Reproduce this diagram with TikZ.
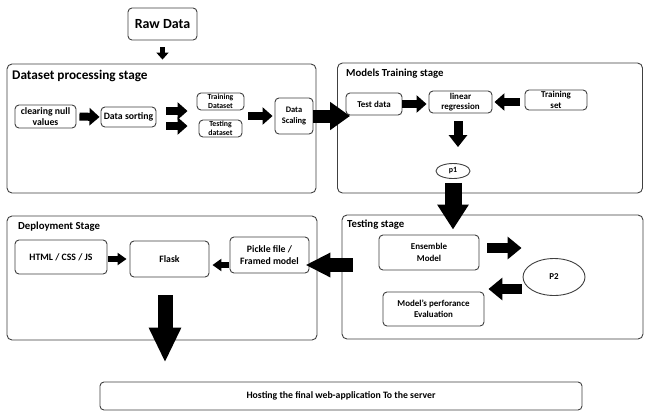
\documentclass[tikz,border=0pt]{standalone}
\usepackage{fontspec}
\setmainfont{Carlito}
\usetikzlibrary{arrows.meta,calc,shapes.geometric}
\begin{document}
\begin{tikzpicture}[x=1bp,y=-1bp,
  box/.style={draw=black!75,line width=0.9bp,rounded corners=4bp,inner sep=1bp,align=center,font=\bfseries\fontsize{9.8}{11.5}\selectfont},
  stagebox/.style={draw=black!75,line width=0.9bp,rounded corners=5bp},
  title/.style={anchor=west,inner sep=0,font=\bfseries\fontsize{10.8}{12}\selectfont},
  ell/.style={draw=black!75,line width=0.9bp,ellipse,inner sep=0,font=\bfseries\fontsize{9}{10}\selectfont},
  sarr/.style={line width=5bp,-{Triangle[length=7bp,width=12bp]}},
  marr/.style={line width=8bp,-{Triangle[length=10bp,width=17bp]}},
  barr/.style={line width=13bp,-{Triangle[length=20bp,width=27bp]}},
  harr/.style={line width=15bp,-{Triangle[length=35bp,width=30bp]}}
]
\useasboundingbox (0,0) rectangle (645,412);
\fill[white] (0,0) rectangle (645,412);

% Raw data
\node[box,minimum width=69bp,minimum height=32bp,font=\bfseries\fontsize{14}{16}\selectfont] (raw) at (162.5,24) {Raw Data};

% Dataset processing stage
\node[stagebox,minimum width=309bp,minimum height=129bp] (dps) at (161.5,128.5) {};
\node[title,font=\bfseries\fontsize{13.3}{15}\selectfont] (dpst) at (12,76) {Dataset processing stage};
\node[box,minimum width=61bp,minimum height=23bp] (clr) at (45.5,116.5) {clearing null\\values};
\node[box,minimum width=55bp,minimum height=20bp] (sort) at (128.5,117) {Data sorting};
\node[box,minimum width=47bp,minimum height=17bp,font=\bfseries\fontsize{7.8}{8.5}\selectfont] (train) at (220.5,101.5) {Training\\Dataset};
\node[box,minimum width=43bp,minimum height=17bp,font=\bfseries\fontsize{7.8}{8.5}\selectfont] (test) at (220.5,128.5) {Testing\\dataset};
\node[box,minimum width=38bp,minimum height=36bp,font=\bfseries\fontsize{8.5}{11}\selectfont] (scal) at (294,116) {Data\\Scaling};

% Models training stage
\node[stagebox,minimum width=305bp,minimum height=130bp] (mts) at (490,128) {};
\node[title] (mtst) at (346,74) {Models Training stage};
\node[box,minimum width=56bp,minimum height=22bp,font=\bfseries\fontsize{9}{10.5}\selectfont] (tdata) at (374,104) {Test data};
\node[box,minimum width=63bp,minimum height=22bp,font=\bfseries\fontsize{9}{10.5}\selectfont] (lin) at (460.5,102) {linear\\regression};
\node[box,minimum width=62bp,minimum height=20bp,font=\bfseries\fontsize{9}{10.5}\selectfont] (tset) at (556,100) {Training\\set};
\node[ell,minimum width=34bp,minimum height=15bp,font=\bfseries\fontsize{8}{9}\selectfont] (p1) at (453,171) {p1};

% Testing stage
\node[stagebox,minimum width=301bp,minimum height=124bp] (tst) at (492.5,277) {};
\node[title] (tstt) at (347,225) {Testing stage};
\node[box,minimum width=100bp,minimum height=35bp,font=\bfseries\fontsize{9}{11.5}\selectfont] (ens) at (429,252.5) {Ensemble\\Model};
\node[ell,minimum width=62bp,minimum height=37bp] (p2) at (554,277) {P2};
\node[box,minimum width=101bp,minimum height=34bp,font=\bfseries\fontsize{9}{11.5}\selectfont] (eval) at (433.5,309) {Model's perforance\\Evaluation};

% Deployment stage
\node[stagebox,minimum width=310bp,minimum height=124bp] (dep) at (162,278) {};
\node[title] (dept) at (18,227) {Deployment Stage};
\node[box,minimum width=92bp,minimum height=34bp] (html) at (61,257) {HTML / CSS / JS};
\node[box,minimum width=79bp,minimum height=36bp] (flask) at (169.5,259) {Flask};
\node[box,minimum width=79bp,minimum height=36bp] (pick) at (269.5,255) {Pickle file /\\Framed model};

% Hosting
\node[box,minimum width=482bp,minimum height=28bp,font=\bfseries\fontsize{9.8}{11}\selectfont] (host) at (341,396) {Hosting the final web-application To the server};

% connectors
\coordinate (depout) at (165,295);
\draw[sarr,shorten <=7bp,shorten >=4bp] (raw.south) -- (raw.south |- dps.north);
\draw[marr,shorten <=3bp,shorten >=1bp] (clr.east) -- (sort.west);
\draw[marr,shorten <=10bp,shorten >=9bp] ([yshift=-9bp]sort.east) -- ([yshift=-9bp]sort.east -| train.west);
\draw[marr,shorten <=10bp,shorten >=11bp] ([yshift=6bp]sort.east) -- ([yshift=6bp]sort.east -| test.west);
\draw[marr,shorten <=6bp,shorten >=2bp] (scal.west -| test.east) -- (scal.west);
\draw[barr,shorten >=-13bp] (scal.east) -- (scal.east -| mts.west);
\draw[marr,shorten >=2bp] (tdata.east) -- (tdata.east -| lin.west);
\draw[marr,shorten <=5bp,shorten >=2bp] (tset.west |- lin.east) -- (lin.east);
\draw[barr,line width=9bp,-{Triangle[length=12bp,width=18bp]},shorten <=8bp,shorten >=16bp] ([xshift=-2.5bp]lin.south) -- ([xshift=-2.5bp]lin.south |- p1.north);
\draw[barr,line width=17bp,-{Triangle[length=25bp,width=30bp]},shorten <=4bp,shorten >=5bp] (p1.south) -- (p1.south |- ens.north);
\draw[barr,line width=10bp,-{Triangle[length=14bp,width=22bp]},shorten <=8bp,shorten >=1bp] ([yshift=4.5bp]ens.east) -- ([yshift=4.5bp]ens.east -| p2.west);
\draw[barr,line width=10bp,-{Triangle[length=14bp,width=22bp]},shorten <=1bp,shorten >=4bp] ([yshift=-12bp]p2.west) -- ([yshift=-12bp]p2.west -| eval.east);
\draw[barr,line width=14bp,-{Triangle[length=25bp,width=23bp]},shorten <=-11bp,shorten >=-12bp] ([yshift=12bp]tst.west) -- ([yshift=12bp]tst.west -| dep.east);
\draw[sarr,line width=6bp,-{Triangle[length=9bp,width=12bp]},shorten <=1bp,shorten >=3bp] ([yshift=-6bp]flask.east -| pick.west) -- ([yshift=-6bp]flask.east);
\draw[sarr,line width=6bp,-{Triangle[length=9bp,width=12bp]},shorten <=1bp,shorten >=3bp] ([yshift=-2bp]html.east) -- ([yshift=-2bp]html.east -| flask.west);
\draw[harr,shorten >=19bp] (depout) -- (depout |- host.north);
\end{tikzpicture}
\end{document}
